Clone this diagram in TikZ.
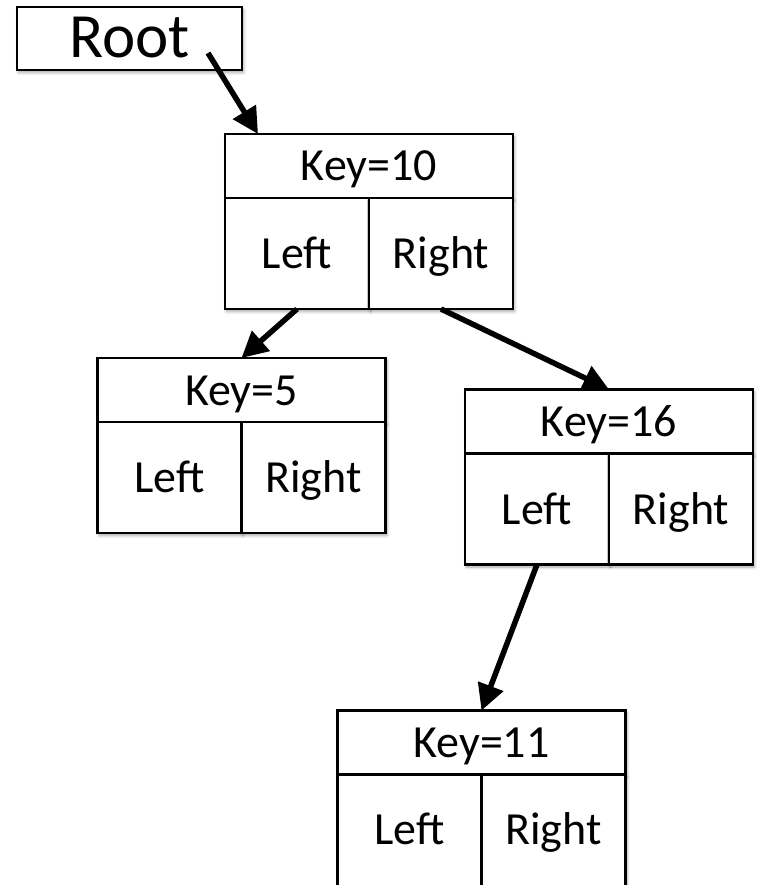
\documentclass[tikz,border=0pt]{standalone}
\usepackage{fontspec}
\setmainfont{Carlito}
\usetikzlibrary{positioning,arrows.meta,shadows.blur}

\tikzset{
  box/.style={draw, line width=2.5pt, fill=white, inner sep=0pt, outer sep=0pt,
    blur shadow={shadow xshift=1.5pt, shadow yshift=-2.5pt, shadow blur radius=3pt, shadow opacity=35},
    font=\fontsize{46}{50}\selectfont, text height=35pt, text depth=5pt},
  keybox/.style={box, minimum width=288pt, minimum height=64pt},
  cellbox/.style={box, minimum width=144pt, minimum height=111pt},
  link/.style={line width=5.5pt, -{Triangle[length=26pt,width=26pt]}},
}

\begin{document}
\begin{tikzpicture}[x=1pt, y=-1pt]
  \useasboundingbox (0,0) rectangle (756,885);

  % root pointer
  \node[box, minimum width=225pt, minimum height=63pt, text height=44pt, text depth=6pt,
        font=\fontsize{63}{66}\selectfont] (root) at (129.5,38.5) {Root};

  % key 10
  \node[keybox] (k10) at (369,166) {Key=10};
  \node[cellbox, below right=0pt of k10.south west] (k10l) {Left};
  \node[cellbox, right=0pt of k10l] (k10r) {Right};

  % key 5
  \node[keybox] (k5) at (241.5,390) {Key=5};
  \node[cellbox, below right=0pt of k5.south west] (k5l) {Left};
  \node[cellbox, right=0pt of k5l] (k5r) {Right};

  % key 16
  \node[keybox] (k16) at (609,421.5) {Key=16};
  \node[cellbox, below right=0pt of k16.south west] (k16l) {Left};
  \node[cellbox, right=0pt of k16l] (k16r) {Right};

  % key 11 (cut off at the bottom)
  \node[keybox] (k11) at (481.5,742.5) {Key=11};
  \node[cellbox, minimum height=115pt, below right=0pt of k11.south west] (k11l) {};
  \node[cellbox, minimum height=115pt, right=0pt of k11l] (k11r) {};
  \node[font=\fontsize{46}{50}\selectfont, text height=35pt, text depth=5pt] (k11lt) at (409.5,829.5) {Left};
  \node[font=\fontsize{46}{50}\selectfont, text height=35pt, text depth=5pt] (k11rt) at (553.5,829.5) {Right};

  % pointers
  \draw[link] ([xshift=-34pt,yshift=17pt]root.south east) -- ([xshift=33pt]k10.north west);
  \draw[link] (k10l.south) -- (k5.north);
  \draw[link] (k10r.south) -- (k16.north);
  \draw[link] (k16l.south) -- (k11.north);
\end{tikzpicture}
\end{document}
